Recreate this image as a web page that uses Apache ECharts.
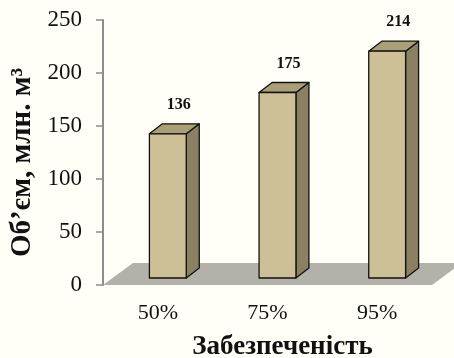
<!DOCTYPE html>
<html>
<head>
<meta charset="utf-8">
<script src="https://cdn.jsdelivr.net/npm/echarts@6/dist/echarts.min.js"></script>
<style>
  html, body { margin: 0; padding: 0; background: #fffff7; }
  #chart { width: 454px; height: 358px; }
</style>
</head>
<body>
<div id="chart"></div>
<script>
// Reservoir volume by supply probability
const categories = ['50%', '75%', '95%'];
const volumes = [136, 175, 214];
const yTicks = [0, 50, 100, 150, 200, 250];

const SERIF = "'Liberation Serif', 'Times New Roman', serif";
const FRONT = '#cdc096';
const TOP = '#aaa078';
const SIDE = '#8b8162';
const FLOOR = '#b4b1aa';

// pseudo-3D depth of the floor and bars (px)
const FLOOR_DX = 30, FLOOR_DY = 22;
const BAR_SHIFT_X = 10, BAR_SHIFT_Y = 7;
const BAR_DX = 13, BAR_DY = 10;

function renderFloor(params, api) {
  const cs = params.coordSys;
  const yb = cs.y + cs.height;
  const xl = cs.x, xr = cs.x + cs.width;
  return {
    type: 'polygon',
    shape: { points: [[xl, yb], [xr, yb], [xr + FLOOR_DX, yb - FLOOR_DY], [xl + FLOOR_DX, yb - FLOOR_DY]] },
    style: { fill: FLOOR, stroke: null }
  };
}

function renderBar(params, api) {
  const idx = api.value(0);
  const val = api.value(1);
  const base = api.coord([idx, 0]);
  const top = api.coord([idx, val]);
  const band = api.size([1, 0])[0];
  const w = band * 0.336;
  const cx = base[0] + BAR_SHIFT_X;
  const x0 = cx - w / 2, x1 = cx + w / 2;
  const yb = base[1] - BAR_SHIFT_Y, yt = top[1] - BAR_SHIFT_Y;
  const line = { stroke: '#111', lineWidth: 1.3, lineJoin: 'round' };
  return {
    type: 'group',
    children: [
      {
        type: 'polygon',
        shape: { points: [[x1, yt], [x1 + BAR_DX, yt - BAR_DY], [x1 + BAR_DX, yb - BAR_DY], [x1, yb]] },
        style: Object.assign({ fill: SIDE }, line)
      },
      {
        type: 'polygon',
        shape: { points: [[x0, yt], [x0 + BAR_DX, yt - BAR_DY], [x1 + BAR_DX, yt - BAR_DY], [x1, yt]] },
        style: Object.assign({ fill: TOP }, line)
      },
      {
        type: 'rect',
        shape: { x: x0, y: yt, width: w, height: yb - yt },
        style: Object.assign({ fill: FRONT }, line)
      },
      {
        type: 'text',
        x: cx + 11,
        y: yt - 29,
        style: {
          text: String(val),
          fill: '#111',
          font: 'bold 16px ' + SERIF,
          align: 'center',
          verticalAlign: 'middle'
        }
      }
    ]
  };
}

const chart = echarts.init(document.getElementById('chart'));
chart.setOption({
  backgroundColor: '#fffff7',
  animation: false,
  grid: { left: 103, right: 22, top: 20, bottom: 73, containLabel: false, outerBoundsMode: 'none' },
  xAxis: {
    type: 'category',
    data: categories,
    axisLine: { show: false },
    axisTick: { show: false },
    axisLabel: { margin: 17, fontFamily: SERIF, fontSize: 22, color: '#111' },
    name: 'Забезпеченість',
    nameLocation: 'middle',
    nameGap: 49,
    nameTextStyle: { fontFamily: SERIF, fontSize: 27, fontWeight: 'bold', color: '#111', padding: [0, 0, 0, 30] }
  },
  yAxis: {
    type: 'value',
    min: yTicks[0],
    max: yTicks[yTicks.length - 1],
    interval: yTicks[1] - yTicks[0],
    splitLine: { show: false },
    axisLine: { show: true, lineStyle: { color: '#8c8c8c', width: 2 } },
    axisTick: { show: true, length: 7, lineStyle: { color: '#8c8c8c', width: 1.5 } },
    axisLabel: { margin: 21, fontFamily: SERIF, fontSize: 23, color: '#111' },
    name: 'Об\u2019єм, млн. м³',
    nameLocation: 'middle',
    nameRotate: 90,
    nameGap: 62,
    nameTextStyle: { fontFamily: SERIF, fontSize: 29, fontWeight: 'bold', color: '#111', padding: [0, 20, 0, 0] }
  },
  series: [
    {
      type: 'custom',
      renderItem: renderFloor,
      data: [[0, 0]],
      z: 1,
      silent: true
    },
    {
      type: 'custom',
      renderItem: renderBar,
      data: volumes.map((v, i) => [i, v]),
      z: 2
    }
  ]
});
</script>
</body>
</html>
